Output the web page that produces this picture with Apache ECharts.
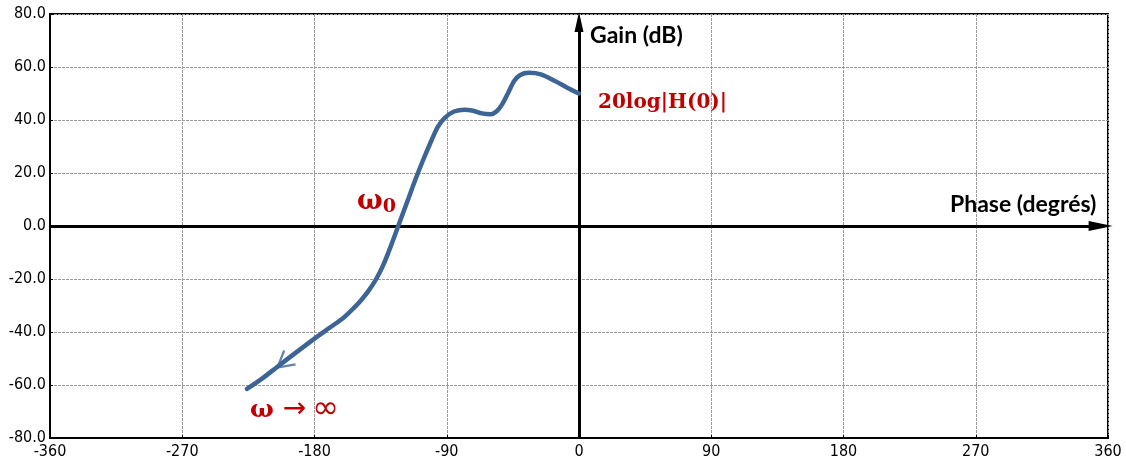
<!DOCTYPE html>
<html>
<head>
<meta charset="utf-8">
<script src="https://cdn.jsdelivr.net/npm/echarts@6/dist/echarts.min.js"></script>
<style>html,body{margin:0;padding:0;background:#fff}#c{width:1126px;height:467px}</style>
</head>
<body>
<div id="c"></div>
<script>
// Phase (degrees) and gain (dB)
var phase = [0, -8, -16, -26, -34, -40, -44, -48, -52, -56, -60, -66, -72, -78, -85, -91, -96, -101, -106, -111, -117, -123, -128, -133, -138, -143, -148, -153, -160, -170, -180, -192, -205, -215, -226];
var gain  = [50, 52.2, 54.6, 57.2, 57.8, 57, 54.8, 50.5, 46.2, 43.3, 42.2, 42.5, 43.5, 43.9, 43.2, 41, 37.5, 31.5, 25, 18, 9, 0, -7.5, -14.5, -20, -24.3, -27.8, -30.8, -34.5, -38.5, -42.5, -47.5, -53, -57.3, -61.5];
var xTicks = [-360, -270, -180, -90, 0, 90, 180, 270, 360];
var yTicks = [-80, -60, -40, -20, 0, 20, 40, 60, 80];
var arrowPoint = [-201, -51.5];

var chart = echarts.init(document.getElementById('c'), null, {renderer: 'canvas'});
var curve = phase.map(function (p, i) { return [p, gain[i]]; });
var labelFont = "'DejaVu Sans Condensed','Liberation Sans Narrow','Liberation Sans',Arial,sans-serif";
var gridLine = {show: true, lineStyle: {color: '#9a9a9a', width: 1, type: [3, 1]}};

chart.setOption({
  animation: false,
  grid: {left: 50, right: 18, top: 14, bottom: 29, show: true, borderColor: '#000', borderWidth: 2, backgroundColor: '#fff'},
  xAxis: {
    type: 'value', min: xTicks[0], max: xTicks[xTicks.length - 1], interval: 90,
    axisLine: {show: true, onZero: false, lineStyle: {color: '#000', width: 2}},
    axisTick: {show: true, inside: true, length: 3, lineStyle: {color: '#000'}},
    axisLabel: {color: '#000', fontSize: 16, fontFamily: labelFont, margin: 6},
    splitLine: gridLine
  },
  yAxis: {
    type: 'value', min: yTicks[0], max: yTicks[yTicks.length - 1], interval: 20,
    axisLine: {show: true, onZero: false, lineStyle: {color: '#000', width: 2}},
    axisTick: {show: true, inside: true, length: 3, lineStyle: {color: '#000'}},
    axisLabel: {color: '#000', fontSize: 16, fontFamily: labelFont, margin: 4,
      formatter: function (v) { return v.toFixed(1); }},
    splitLine: gridLine
  },
  series: [
    {
      type: 'line', data: [], silent: true,
      markLine: {
        silent: true, animation: false,
        symbol: ['none', 'triangle'],
        label: {show: false},
        lineStyle: {color: '#000', width: 3, type: 'solid'},
        data: [
          [{coord: [xTicks[0], 0], symbol: 'none'}, {coord: [355, 0], symbol: 'triangle', symbolSize: [10, 24]}],
          [{coord: [0, yTicks[0]], symbol: 'none'}, {coord: [0, 77], symbol: 'triangle', symbolSize: [9, 20]}]
        ]
      }
    },
    {
      type: 'line', data: curve, smooth: 0.3, showSymbol: false, silent: true, z: 5,
      lineStyle: {color: '#3C6494', width: 4.5, cap: 'round'}
    },
    {
      type: 'scatter', data: [arrowPoint], silent: true, z: 6,
      symbol: 'path://M0,16 L9,0 L18,16', symbolSize: [18, 16], symbolRotate: 129,
      itemStyle: {color: 'none', borderColor: '#3C6494', borderWidth: 2.2}
    }
  ],
  graphic: [
    {type: 'text', left: 590, top: 24, z: 10, style: {text: 'Gain (dB)', font: "bold 23px Lato, 'Open Sans', sans-serif", fill: '#000'}},
    {type: 'text', left: 950, top: 193, z: 10, style: {text: 'Phase (degrés)', font: "bold 23px Lato, 'Open Sans', sans-serif", fill: '#000'}},
    {type: 'text', left: 598, top: 93, z: 10, style: {text: '20log|H(0)|', font: "bold 20px 'DejaVu Serif', serif", fill: '#C00000'}},
    {type: 'text', left: 357, top: 188, z: 10, style: {
      text: '{w|ω}{s|0}', fill: '#C00000', rich: {
        w: {fontSize: 27, fontWeight: 'bold', fontFamily: "'DejaVu Serif', serif", fill: '#C00000'},
        s: {fontSize: 19, fontWeight: 'bold', fontFamily: "'DejaVu Serif', serif", fill: '#C00000', verticalAlign: 'bottom', padding: [12, 0, 0, 0]}
      }}},
    {type: 'text', left: 250, top: 394, z: 10, style: {
      text: '{w|ω}{a|→}{i|∞}', fill: '#C00000', rich: {
        w: {fontSize: 25, fontWeight: 'bold', fontFamily: "'DejaVu Serif', serif", fill: '#C00000'},
        a: {fontSize: 28, fontFamily: "'DejaVu Sans', sans-serif", fill: '#C00000', padding: [0, 6, 0, 9]},
        i: {fontSize: 32, fontFamily: "'DejaVu Sans', sans-serif", fill: '#C00000'}
      }}}
  ]
});
</script>
</body>
</html>
